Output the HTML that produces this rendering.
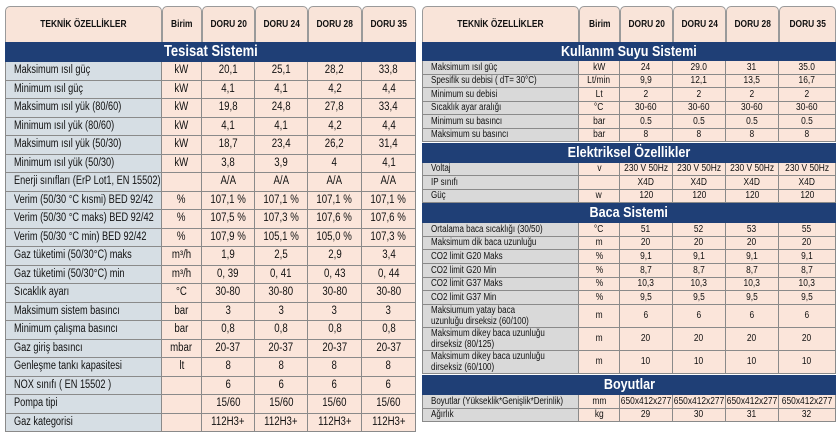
<!DOCTYPE html>
<html><head><meta charset="utf-8">
<style>
body{margin:0;width:840px;height:438px;background:#fff;position:relative;overflow:hidden;font-family:"Liberation Sans",sans-serif;color:#111}
.c{position:absolute;box-sizing:border-box;display:flex;align-items:center;justify-content:center;text-align:center;border-right:1px solid #8a8a8a;border-bottom:1px solid #8a8a8a;line-height:1.15;overflow:hidden;white-space:nowrap}
.c span{display:inline-block;transform:scaleX(0.84);transform-origin:center}
.lab span{transform-origin:left center;transform:scaleX(0.8)}
.h{background:#f9e4d9;font-weight:bold;border-radius:5px 5px 0 0;border:1px solid #9a9a9a}
.bar{background:#1f3f76;color:#fff;font-weight:bold;border:none}
.lab{justify-content:flex-start;padding-left:8px;text-align:left}
.wrap{white-space:normal}
.wrap span{width:185px}
</style></head><body>
<script>
const leftRows=[["Maksimum ısıl güç","kW","20,1","25,1","28,2","33,8"],["Minimum ısıl güç","kW","4,1","4,1","4,2","4,4"],["Maksimum ısıl yük (80/60)","kW","19,8","24,8","27,8","33,4"],["Minimum ısıl yük (80/60)","kW","4,1","4,1","4,2","4,4"],["Maksimum ısıl yük (50/30)","kW","18,7","23,4","26,2","31,4"],["Minimum ısıl yük (50/30)","kW","3,8","3,9","4","4,1"],["Enerji sınıfları (ErP Lot1, EN 15502)","","A/A","A/A","A/A","A/A"],["Verim (50/30 °C kısmi) BED 92/42","%","107,1 %","107,1 %","107,1 %","107,1 %"],["Verim (50/30 °C maks) BED 92/42","%","107,5 %","107,3 %","107,6 %","107,6 %"],["Verim (50/30 °C min) BED 92/42","%","107,9 %","105,1 %","105,0 %","107,3 %"],["Gaz tüketimi (50/30°C) maks","m³/h","1,9","2,5","2,9","3,4"],["Gaz tüketimi (50/30°C) min","m³/h","0, 39","0, 41","0, 43","0, 44"],["Sıcaklık ayarı","°C","30-80","30-80","30-80","30-80"],["Maksimum sistem basıncı","bar","3","3","3","3"],["Minimum çalışma basıncı","bar","0,8","0,8","0,8","0,8"],["Gaz giriş basıncı","mbar","20-37","20-37","20-37","20-37"],["Genleşme tankı kapasitesi","lt","8","8","8","8"],["NOX sınıfı ( EN 15502 )","","6","6","6","6"],["Pompa tipi","","15/60","15/60","15/60","15/60"],["Gaz kategorisi","","112H3+","112H3+","112H3+","112H3+"]];
const heads=["TEKNİK ÖZELLİKLER","Birim","DORU 20","DORU 24","DORU 28","DORU 35"];
const rightSections=[
 ["Kullanım Suyu Sistemi",[["Maksimum ısıl güç","kW","24","29.0","31","35.0"],["Spesifik su debisi ( dT= 30°C)","Lt/min","9,9","12,1","13,5","16,7"],["Minimum su debisi","Lt","2","2","2","2"],["Sıcaklık ayar aralığı","°C","30-60","30-60","30-60","30-60"],["Minimum su basıncı","bar","0.5","0.5","0.5","0.5"],["Maksimum su basıncı","bar","8","8","8","8"]]],
 ["Elektriksel Özellikler",[["Voltaj","v","230 V 50Hz","230 V 50Hz","230 V 50Hz","230 V 50Hz"],["IP sınıfı","","X4D","X4D","X4D","X4D"],["Güç","w","120","120","120","120"]]],
 ["Baca Sistemi",[["Ortalama baca sıcaklığı (30/50)","°C","51","52","53","55"],["Maksimum dik baca uzunluğu","m","20","20","20","20"],["CO2 limit G20 Maks","%","9,1","9,1","9,1","9,1"],["CO2 limit G20 Min","%","8,7","8,7","8,7","8,7"],["CO2 limit G37 Maks","%","10,3","10,3","10,3","10,3"],["CO2 limit G37 Min","%","9,5","9,5","9,5","9,5"],["Maksiumum yatay baca uzunluğu dirseksiz (60/100)","m","6","6","6","6"],["Maksimum dikey baca uzunluğu dirseksiz (80/125)","m","20","20","20","20"],["Maksimum dikey baca uzunluğu dirseksiz (60/100)","m","10","10","10","10"]]],
 ["Boyutlar",[["Boyutlar (Yükseklik*Genişlik*Derinlik)","mm","650x412x277","650x412x277","650x412x277","650x412x277"],["Ağırlık","kg","29","30","31","32"]]]];

function cell(x,y,w,h,txt,cls,bg,fs){
 const d=document.createElement('div');
 d.className='c '+(cls||'');
 d.style.cssText=`left:${x}px;top:${y}px;width:${w}px;height:${h}px;font-size:${fs}px;`+(bg?`background:${bg};`:'');
 const s=document.createElement('span');
 s.textContent=txt;
 d.appendChild(s);
 
 
 document.body.appendChild(d);return d;
}
const LX=[5,162,202,255,308,362,416];
heads.forEach((t,i)=>{const d=cell(LX[i],6,LX[i+1]-LX[i],37,t,'h',null,10);});
{const b=cell(5,42,411,20,"Tesisat Sistemi",'bar',null,15.5);}
const lh=(432-62)/leftRows.length;
leftRows.forEach((r,ri)=>{r.forEach((t,i)=>{
 const y=62+ri*lh;
 const d=cell(LX[i],Math.round(y),LX[i+1]-LX[i],Math.round(y+lh)-Math.round(y),t,i==0?'lab':'',i==0?'#d6dee4':'#fbe5da',11.5);
 if(i==0)d.style.borderLeft='1px solid #8a8a8a';
});});
const RX=[422,579,620,673,726,779,836];
heads.forEach((t,i)=>{const d=cell(RX[i],6,RX[i+1]-RX[i],37,t,'h',null,10);});
const barY=[42,143,203,375];
const rowH=[[13.5],[13.4],[13.7,13.7,13.7,13.7,13.7,13.7,23,23,23],[13.5]];
rightSections.forEach((s,si)=>{
 let y=barY[si];
 const b=cell(422,y,414,si==0?19:20,s[0],'bar',null,15);
 y+=si==0?19:20;
 s[1].forEach((r,ri)=>{
  const h=rowH[si][ri]||rowH[si][0];
  r.forEach((t,i)=>{
   const d=cell(RX[i],Math.round(y),RX[i+1]-RX[i],Math.round(y+h)-Math.round(y),t,(i==0?'lab':'')+(h>20&&i==0?' wrap':''),i==0?'#d9d9d9':'#fbe5da',10);
   if(i==0)d.style.borderLeft='1px solid #8a8a8a';
  });
  y+=h;
 });
});
</script>
</body></html>
